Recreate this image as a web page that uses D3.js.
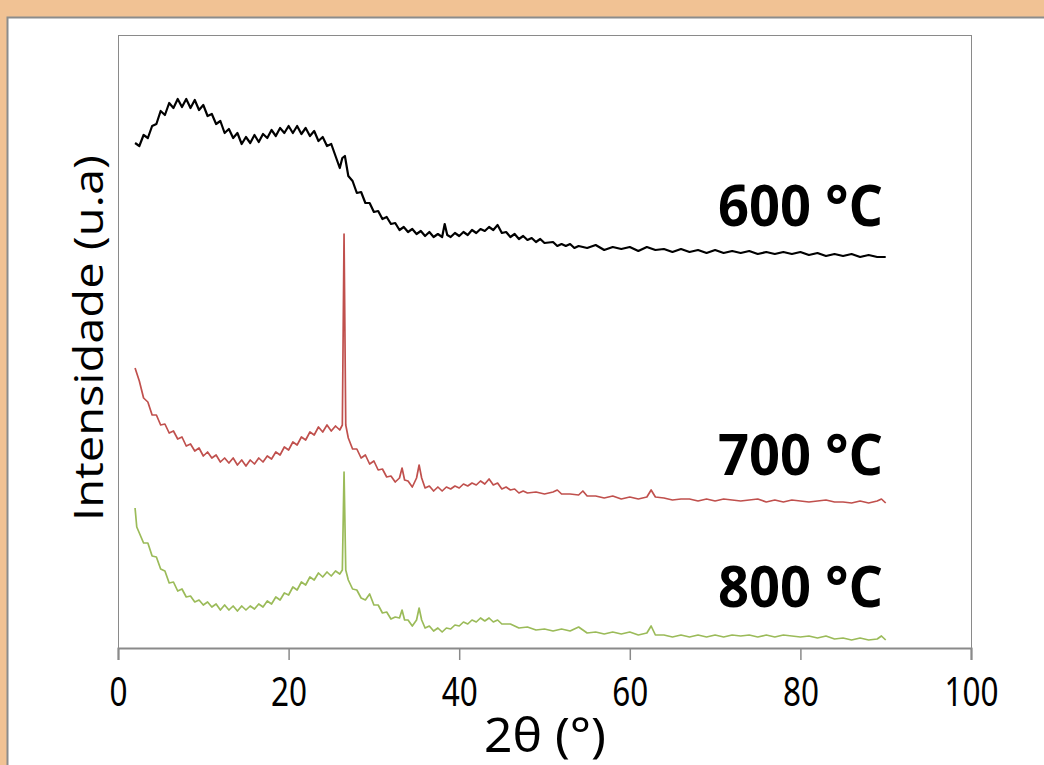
<!DOCTYPE html>
<html>
<head>
<meta charset="utf-8">
<script src="https://cdn.jsdelivr.net/npm/d3@7"></script>
<style>
body{margin:0;padding:0;background:#F1C294;}
svg{display:block;}
</style>
</head>
<body>
<svg id="chart" width="1044" height="765"></svg>
<script>
// XRD patterns, intensity in arbitrary units
var xTicks = [0, 20, 40, 60, 80, 100];
var labels = ["600 °C", "700 °C", "800 °C"];
var colors = ["#000000", "#C0504D", "#9BBB59"];

var s600 = [[2,505],[2.5,502],[3,513],[3.5,510],[4,522],[4.5,524],[5,537],[5.5,533],[6,545],[6.5,540],[7,549],[7.5,541],[8,549],[8.5,540],[9,548],[9.5,538],[10,543],[10.5,532],[11,534],[11.5,524],[12,527],[12.5,515],[13,519],[13.5,510],[14,515],[14.5,504],[15,511],[15.5,505],[16,513],[16.5,506],[17,514],[17.5,510],[18,518],[18.5,512],[19,520],[19.5,515],[20,522],[20.5,515],[21,522],[21.5,514],[22,520],[22.5,512],[23,517],[23.5,507],[24,511],[24.5,502],[25,504],[25.5,492],[26,480],[26.3,490],[26.6,492],[27,472],[27.5,467],[28,455],[28.5,456],[29,445],[29.5,445],[30,436],[30.5,437],[31,429],[31.5,431],[32,424],[32.5,425],[33,418],[33.5,421],[34,416],[34.5,419],[35,414],[35.5,417],[36,412],[36.5,416],[37,411],[37.5,414],[38,411],[38.3,424],[38.6,413],[39,411],[39.5,415],[40,412],[40.5,416],[41,413],[41.5,418],[42,415],[42.5,419],[43,417],[43.5,421],[44,418],[44.5,423],[45,415],[45.5,416],[46,411],[46.5,414],[47,409],[47.5,412],[48,408],[48.5,410],[49,406],[49.5,409],[50,405],[51,406],[51.5,402],[52,404],[52.5,402],[53,404],[53.5,400],[54,402],[55,400],[56,403],[57,398],[58,401],[59,399],[60,401],[61,397],[62,401],[63,398],[64,399],[65,396],[66,399],[67,396],[68,398],[69,395],[70,398],[71,395],[72,397],[73,395],[74,397],[75,394],[76,396],[77,394],[78,396],[79,394],[80,396],[81,393],[82,395],[83,392],[84,394],[85,392],[86,394],[87,391],[88,393],[89,391],[90,391]];

var s700 = [[2,280],[2.5,267],[3,250],[3.5,246],[4,233],[4.5,233],[5,223],[5.5,224],[6,215],[6.5,217],[7,209],[7.5,211],[8,202],[8.5,204],[9,197],[9.5,200],[10,192],[10.5,196],[11,190],[11.5,193],[12,186],[12.5,190],[13,185],[13.5,190],[14,183],[14.5,188],[15,182],[15.5,188],[16,184],[16.5,190],[17,186],[17.5,192],[18,189],[18.5,196],[19,193],[19.5,201],[20,198],[20.5,206],[21,203],[21.5,211],[22,208],[22.5,216],[23,213],[23.5,221],[24,216],[24.5,223],[25,217],[25.5,222],[26,218],[26.3,223],[26.5,414],[26.7,223],[27,210],[27.5,199],[28,199],[28.5,190],[29,193],[29.5,184],[30,187],[30.5,178],[31,179],[31.5,171],[32,172],[32.5,166],[33,170],[33.3,180],[33.6,168],[34,167],[34.5,161],[35,170],[35.3,183],[35.6,170],[36,160],[36.5,162],[37,157],[37.5,161],[38,157],[38.5,161],[39,159],[39.5,162],[40,160],[40.5,164],[41,162],[41.5,165],[42,163],[42.5,167],[43,164],[43.5,169],[44,163],[44.5,165],[45,159],[45.5,161],[46,158],[46.5,159],[47,155],[47.5,157],[48,155],[49,156],[50,154],[51,156],[51.5,158],[52,154],[53,154],[54,153],[54.5,157],[55,152],[56,152],[57,150],[58,152],[59,149],[60,151],[61,149],[62,151],[62.5,158],[63,151],[64,150],[65,148],[66,149],[67,149],[68,147],[69,149],[70,147],[71,149],[72,148],[73,147],[74,148],[75,149],[76,146],[77,148],[78,146],[79,148],[80,147],[81,146],[82,147],[83,148],[84,146],[85,146],[86,145],[87,147],[88,145],[89,147],[89.5,149],[90,145]];

var s800 = [[2,140],[2.2,121],[2.5,115],[3,105],[3.5,105],[4,92],[4.5,91],[5,79],[5.5,77],[6,65],[6.5,66],[7,57],[7.5,59],[8,51],[8.5,52],[9,46],[9.5,48],[10,43],[10.5,46],[11,41],[11.5,44],[12,38],[12.5,43],[13,38],[13.5,42],[14,37],[14.5,42],[15,38],[15.5,42],[16,39],[16.5,44],[17,41],[17.5,47],[18,44],[18.5,51],[19,48],[19.5,55],[20,53],[20.5,61],[21,58],[21.5,66],[22,63],[22.5,71],[23,68],[23.5,75],[24,71],[24.5,76],[25,72],[25.5,77],[26,74],[26.3,78],[26.5,176],[26.7,78],[27,68],[27.5,59],[28,58],[28.5,50],[29,48],[29.5,54],[30,43],[30.5,43],[31,35],[31.5,36],[32,29],[32.5,31],[33,30],[33.3,38],[33.6,28],[34,28],[34.5,22],[35,28],[35.3,40],[35.6,28],[36,20],[36.5,22],[37,17],[37.5,20],[38,16],[38.5,20],[39,19],[39.5,23],[40,22],[40.5,26],[41,24],[41.5,28],[42,26],[42.5,30],[43,27],[43.5,30],[44,26],[44.5,28],[45,24],[46,24],[47,20],[48,21],[49,18],[50,19],[51,17],[52,19],[53,17],[54,21],[55,15],[56,16],[57,14],[58,16],[59,14],[60,16],[61,13],[62,15],[62.5,22],[63,13],[64,13],[65,11],[66,13],[67,11],[68,13],[69,11],[70,13],[71,11],[72,13],[73,12],[74,13],[75,11],[76,13],[77,11],[78,13],[79,12],[80,11],[81,12],[82,10],[83,12],[84,9],[85,10],[86,8],[87,10],[88,8],[89,9],[89.5,12],[90,8]];

var series = [s600, s700, s800];
var labelY = [226, 475, 607];

var svg = d3.select("#chart");

// white panel on the peach page
svg.append("rect")
	.attr("x", 7.5).attr("y", 17.5)
	.attr("width", 1050).attr("height", 760)
	.attr("fill", "#ffffff")
	.attr("stroke", "#8c8c8c")
	.attr("stroke-width", 2);

var pLeft = 118, pRight = 971, pTop = 35, pBottom = 648;

var sx = d3.scaleLinear().domain([0, 100]).range([pLeft, pRight]);
var sy = d3.scaleLinear().domain([0, 613]).range([pBottom, pTop]);

// plot frame
svg.append("rect")
	.attr("x", pLeft + 0.5).attr("y", pTop + 0.5)
	.attr("width", pRight - pLeft).attr("height", pBottom - pTop)
	.attr("fill", "none")
	.attr("stroke", "#8a8a8a")
	.attr("stroke-width", 1);

var xAxis = d3.axisBottom(sx)
	.tickValues(xTicks)
	.tickSize(12)
	.tickPadding(20)
	.tickFormat(d3.format("d"));

var gx = svg.append("g")
	.attr("transform", "translate(0," + pBottom + ")")
	.call(xAxis);

gx.select(".domain").attr("stroke", "#8a8a8a").attr("stroke-width", 2);
gx.selectAll(".tick line").attr("stroke", "#8a8a8a").attr("stroke-width", 1.5);
gx.selectAll(".tick text")
	.attr("fill", "#000")
	.attr("transform", "scale(0.9,1.12)")
	.attr("y", 27)
	.style("font-family", "'Noto Sans', sans-serif")
	.style("font-size", "35px");

var line = d3.line()
	.x(function(d){ return sx(d[0]); })
	.y(function(d){ return sy(d[1]); });

series.forEach(function(s, i){
	svg.append("path")
		.datum(s)
		.attr("d", line)
		.attr("fill", "none")
		.attr("stroke", colors[i])
		.attr("stroke-width", i == 0 ? 2.2 : 1.7)
		.attr("stroke-linejoin", "round");

	svg.append("text")
		.attr("x", 883).attr("y", labelY[i])
		.attr("text-anchor", "end")
		.attr("textLength", 165)
		.attr("lengthAdjust", "spacingAndGlyphs")
		.style("font-family", "'Open Sans', 'Noto Sans', sans-serif")
		.style("font-weight", "bold")
		.style("font-size", "58px")
		.text(labels[i]);
});

// axis titles
svg.append("text")
	.attr("x", 545).attr("y", 752)
	.attr("text-anchor", "middle")
	.attr("textLength", 122)
	.attr("lengthAdjust", "spacingAndGlyphs")
	.style("font-family", "'Noto Sans', sans-serif")
	.style("font-size", "48px")
	.text("2θ (°)");

svg.append("text")
	.attr("transform", "translate(103,338) rotate(-90)")
	.attr("text-anchor", "middle")
	.attr("textLength", 366)
	.attr("lengthAdjust", "spacingAndGlyphs")
	.style("font-family", "'Open Sans', 'Noto Sans', sans-serif")
	.style("font-size", "40px")
	.text("Intensidade (u.a)");
</script>
</body>
</html>
